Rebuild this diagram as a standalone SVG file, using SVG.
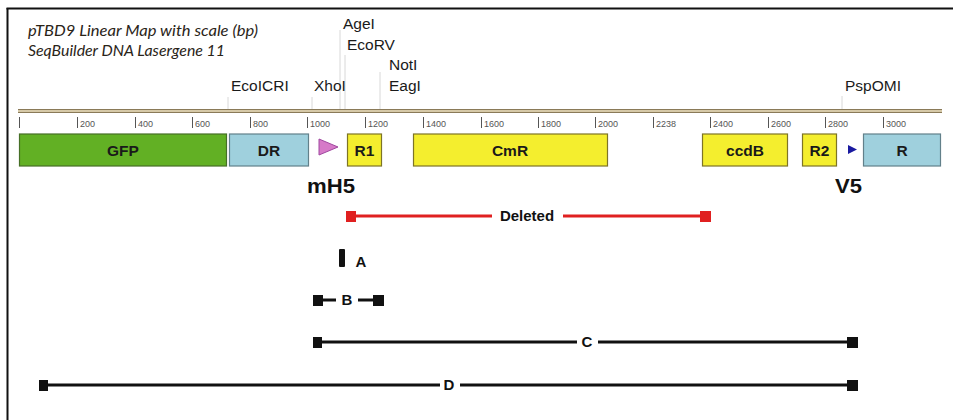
<svg xmlns="http://www.w3.org/2000/svg" width="953" height="420" viewBox="0 0 953 420">
  <style>
    .title { font-family: Lato, "Open Sans", sans-serif; font-style: italic; font-size: 15px; fill: #2a2418; }
    .enz { font-family: "Liberation Sans", Arial, sans-serif; font-size: 15.5px; fill: #1a1a1a; }
    .site { stroke: #d8d8d8; stroke-width: 1; }
    .tick { stroke: #555; stroke-width: 1; }
    .tlab { font-family: "Liberation Sans", Arial, sans-serif; font-size: 9px; fill: #555; }
    .flab { font-family: "Liberation Sans", Arial, sans-serif; font-weight: bold; font-size: 15.5px; fill: #1a1a1a; text-anchor: middle; }
    .big { font-family: "Liberation Sans", Arial, sans-serif; font-weight: bold; font-size: 20px; fill: #111; }
    .frag { font-family: "Liberation Sans", Arial, sans-serif; font-weight: bold; font-size: 15px; fill: #111; text-anchor: middle; }
    .yel { fill: #f4ee2e; stroke: #7d7426; stroke-width: 1.2; }
    .blu { fill: #9fd0dd; stroke: #62808a; stroke-width: 1.2; }
    .grn { fill: #62b024; stroke: #466f26; stroke-width: 1.2; }
    .bar { stroke: #111; stroke-width: 3; }
    .red { stroke: #e02020; stroke-width: 3; }
  </style>

  <rect width="953" height="420" fill="#ffffff"/>

  <!-- outer frame: left and top rules only -->
  <g id="frame" stroke="#111" stroke-width="2">
    <line x1="7.5" y1="8" x2="7.5" y2="420"/>
    <line x1="6.5" y1="8.5" x2="953" y2="8.5"/>
  </g>

  <g id="title">
    <text class="title" x="28" y="36" textLength="230" lengthAdjust="spacingAndGlyphs">pTBD9 Linear Map with scale (bp)</text>
    <text class="title" x="28" y="56" textLength="197" lengthAdjust="spacingAndGlyphs">SeqBuilder DNA Lasergene 11</text>
  </g>

  <!-- restriction sites -->
  <g id="sites">
    <line class="site" x1="228" y1="97" x2="228" y2="109"/>
    <line class="site" x1="312" y1="97" x2="312" y2="109"/>
    <line class="site" x1="340" y1="30" x2="340" y2="109"/>
    <line class="site" x1="345" y1="55" x2="345" y2="109"/>
    <line class="site" x1="380" y1="72" x2="380" y2="109"/>
    <line class="site" x1="842" y1="96" x2="842" y2="109"/>
    <text class="enz" x="343" y="29">AgeI</text>
    <text class="enz" x="347" y="50">EcoRV</text>
    <text class="enz" x="389" y="70">NotI</text>
    <text class="enz" x="389" y="91">EagI</text>
    <text class="enz" x="231" y="91">EcoICRI</text>
    <text class="enz" x="314" y="91">XhoI</text>
    <text class="enz" x="845" y="91">PspOMI</text>
  </g>

  <!-- backbone -->
  <g id="backbone">
    <rect x="18" y="109" width="924" height="4" fill="#d6c9a8"/>
    <line x1="18" y1="109.5" x2="942" y2="109.5" stroke="#8a7a58" stroke-width="1.2"/>
    <line x1="18" y1="112.5" x2="942" y2="112.5" stroke="#8a7a58" stroke-width="1.2"/>
  </g>

  <!-- scale in bp -->
  <g id="ruler">
    <line class="tick" x1="19.5" y1="117" x2="19.5" y2="128"/>
    <line class="tick" x1="77.5" y1="117" x2="77.5" y2="128"/>
    <line class="tick" x1="135.5" y1="117" x2="135.5" y2="128"/>
    <line class="tick" x1="192.5" y1="117" x2="192.5" y2="128"/>
    <line class="tick" x1="250.5" y1="117" x2="250.5" y2="128"/>
    <line class="tick" x1="307.5" y1="117" x2="307.5" y2="128"/>
    <line class="tick" x1="365.5" y1="117" x2="365.5" y2="128"/>
    <line class="tick" x1="423.5" y1="117" x2="423.5" y2="128"/>
    <line class="tick" x1="481.5" y1="117" x2="481.5" y2="128"/>
    <line class="tick" x1="538.5" y1="117" x2="538.5" y2="128"/>
    <line class="tick" x1="595.5" y1="117" x2="595.5" y2="128"/>
    <line class="tick" x1="653.5" y1="117" x2="653.5" y2="128"/>
    <line class="tick" x1="710.5" y1="117" x2="710.5" y2="128"/>
    <line class="tick" x1="768.5" y1="117" x2="768.5" y2="128"/>
    <line class="tick" x1="825.5" y1="117" x2="825.5" y2="128"/>
    <line class="tick" x1="883.5" y1="117" x2="883.5" y2="128"/>
    <text class="tlab" x="80" y="127">200</text>
    <text class="tlab" x="138" y="127">400</text>
    <text class="tlab" x="195" y="127">600</text>
    <text class="tlab" x="253" y="127">800</text>
    <text class="tlab" x="310" y="127">1000</text>
    <text class="tlab" x="368" y="127">1200</text>
    <text class="tlab" x="426" y="127">1400</text>
    <text class="tlab" x="484" y="127">1600</text>
    <text class="tlab" x="541" y="127">1800</text>
    <text class="tlab" x="598" y="127">2000</text>
    <text class="tlab" x="656" y="127">2238</text>
    <text class="tlab" x="713" y="127">2400</text>
    <text class="tlab" x="771" y="127">2600</text>
    <text class="tlab" x="828" y="127">2800</text>
    <text class="tlab" x="886" y="127">3000</text>
  </g>

  <!-- features -->
  <g id="GFP">
    <rect class="grn" x="19.5" y="134" width="207" height="32"/>
    <text class="flab" x="123" y="156">GFP</text>
  </g>
  <g id="DR">
    <rect class="blu" x="229.5" y="134" width="79" height="32"/>
    <text class="flab" x="269" y="156">DR</text>
  </g>
  <g id="mH5-promoter">
    <polygon points="319,139 338,147 319,155" fill="#d67ac8" stroke="#a048a0" stroke-width="1"/>
  </g>
  <g id="R1">
    <rect class="yel" x="347.5" y="134" width="34" height="32"/>
    <text class="flab" x="364.5" y="156">R1</text>
  </g>
  <g id="CmR">
    <rect class="yel" x="413.5" y="134" width="194" height="32"/>
    <text class="flab" x="510" y="156">CmR</text>
  </g>
  <g id="ccdB">
    <rect class="yel" x="702.5" y="134" width="85" height="32"/>
    <text class="flab" x="745" y="156">ccdB</text>
  </g>
  <g id="R2">
    <rect class="yel" x="802.5" y="134" width="34" height="32"/>
    <text class="flab" x="819.5" y="156">R2</text>
  </g>
  <g id="V5-tag">
    <polygon points="848,145 857,149.5 848,154" fill="#1a1aa0"/>
  </g>
  <g id="R">
    <rect class="blu" x="863.5" y="134" width="77" height="32"/>
    <text class="flab" x="902" y="156">R</text>
  </g>

  <g id="labels">
    <text class="big" x="307" y="193" textLength="48" lengthAdjust="spacingAndGlyphs">mH5</text>
    <text class="big" x="835" y="193" textLength="27" lengthAdjust="spacingAndGlyphs">V5</text>
  </g>

  <!-- fragment spans -->
  <g id="spans">
    <g id="deleted">
      <line class="red" x1="352" y1="216" x2="492" y2="216"/>
      <line class="red" x1="563" y1="216" x2="705" y2="216"/>
      <rect x="346" y="211" width="10" height="11" fill="#e02020"/>
      <rect x="700" y="211" width="11" height="11" fill="#e02020"/>
      <text class="frag" x="527" y="221" font-size="16">Deleted</text>
    </g>
    <g id="A">
      <rect x="339" y="249" width="6" height="18" rx="1" fill="#111"/>
      <text class="frag" x="361" y="267">A</text>
    </g>
    <g id="B">
      <rect x="313" y="295" width="10" height="11" fill="#111"/>
      <line class="bar" x1="323" y1="300" x2="336" y2="300"/>
      <text class="frag" x="347" y="305">B</text>
      <line class="bar" x1="358" y1="300" x2="374" y2="300"/>
      <rect x="373" y="295" width="11" height="11" fill="#111"/>
    </g>
    <g id="C">
      <rect x="313" y="337" width="9" height="11" fill="#111"/>
      <line class="bar" x1="320" y1="342" x2="577" y2="342"/>
      <text class="frag" x="587" y="347" font-size="14">C</text>
      <line class="bar" x1="598" y1="342" x2="850" y2="342"/>
      <rect x="847" y="337" width="11" height="11" fill="#111"/>
    </g>
    <g id="D">
      <rect x="39" y="380" width="9" height="11" fill="#111"/>
      <line class="bar" x1="46" y1="385" x2="440" y2="385"/>
      <text class="frag" x="449" y="390" font-size="14">D</text>
      <line class="bar" x1="460" y1="385" x2="850" y2="385"/>
      <rect x="847" y="380" width="11" height="11" fill="#111"/>
    </g>
  </g>
</svg>
